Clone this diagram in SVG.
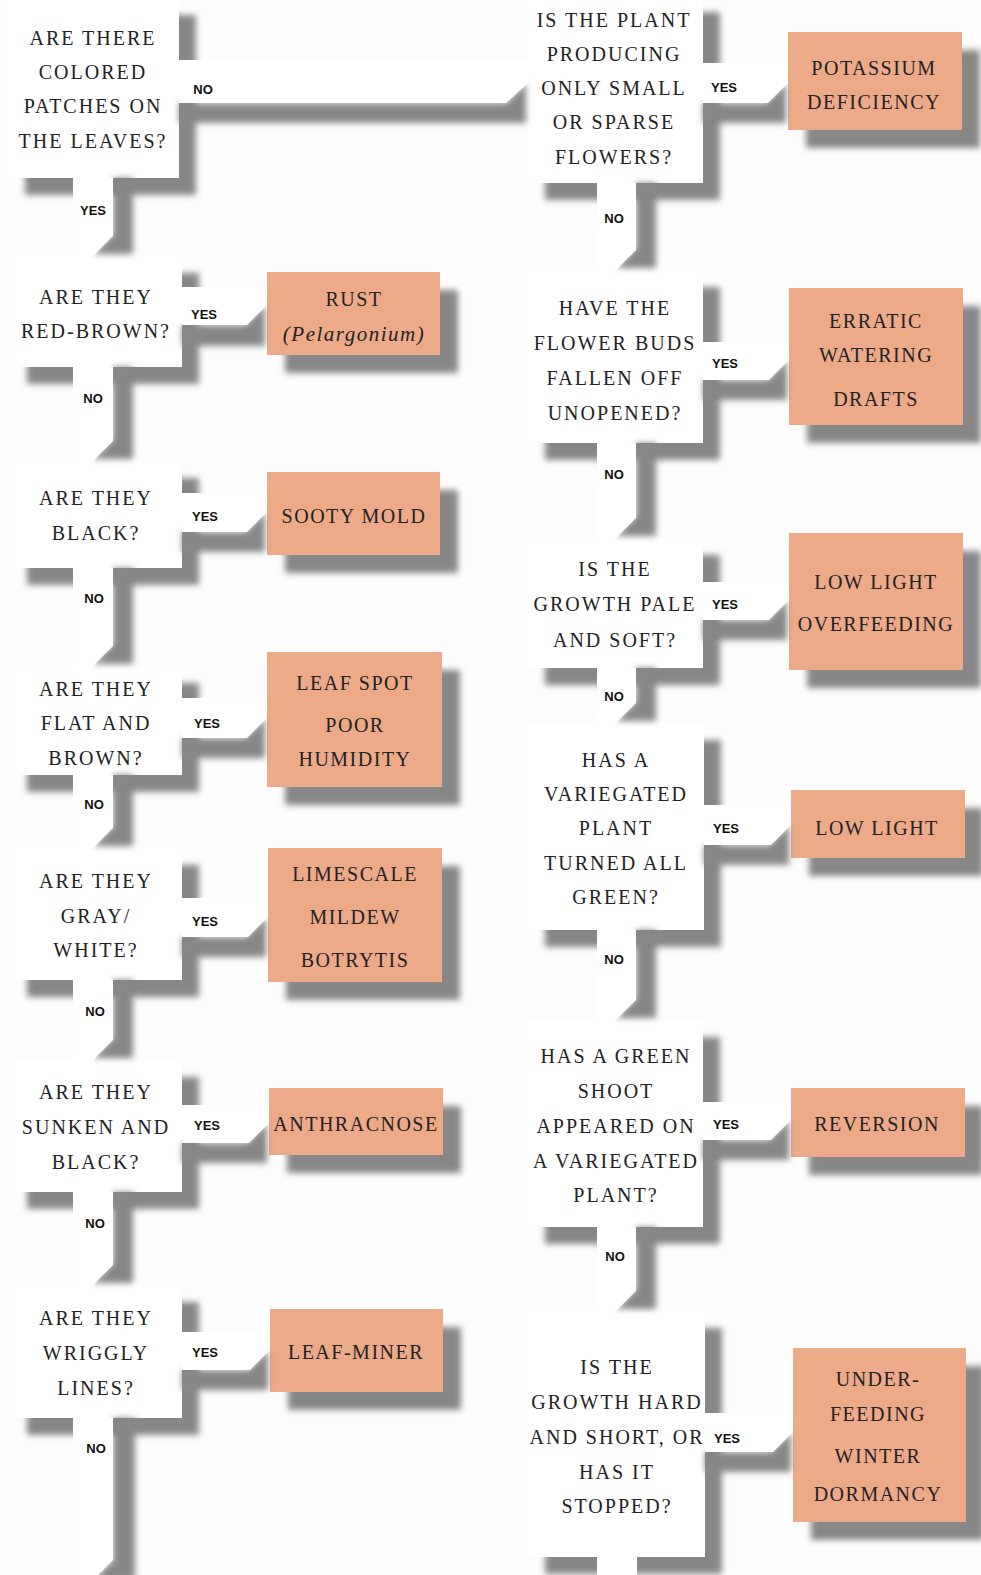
<svg xmlns="http://www.w3.org/2000/svg" width="981" height="1575" viewBox="0 0 981 1575">
<defs>
<filter id="blur" x="-30%" y="-30%" width="160%" height="160%"><feGaussianBlur stdDeviation="3.2"/></filter>
<style>
.sh{fill:#878787;filter:url(#blur)}
.wb{fill:#ffffff}
.ob{fill:#ecaa89}
.q{font-family:"Liberation Serif","Times New Roman",serif;font-size:20px;letter-spacing:2px;fill:#222;text-anchor:middle}
.r{font-family:"Liberation Serif","Times New Roman",serif;font-size:20px;letter-spacing:1.5px;fill:#222;text-anchor:middle}
.ri{font-family:"Liberation Serif","Times New Roman",serif;font-size:21px;font-style:italic;letter-spacing:1.5px;fill:#222;text-anchor:middle}
.lbl{font-family:"Liberation Sans",Arial,sans-serif;font-size:13px;font-weight:bold;fill:#111;text-anchor:middle}
</style>
</defs>
<rect x="0" y="0" width="981" height="1575" fill="#fdfdfd"/>

<!-- LEFT QUESTION NODES -->
<g id="q1">
<rect class="sh" x="25" y="15" width="171" height="180"/>
<rect class="wb" x="8" y="-2" width="171" height="180"/>
<text class="q" x="93" y="45">ARE THERE</text>
<text class="q" x="93" y="79">COLORED</text>
<text class="q" x="93" y="113">PATCHES ON</text>
<text class="q" x="93" y="148">THE LEAVES?</text>
</g>
<g id="q2">
<rect class="sh" x="27" y="273" width="172" height="111"/>
<rect class="wb" x="10" y="256" width="172" height="111"/>
<text class="q" x="96" y="304">ARE THEY</text>
<text class="q" x="96" y="338">RED-BROWN?</text>
</g>
<g id="q3">
<rect class="sh" x="27" y="478" width="172" height="107"/>
<rect class="wb" x="10" y="461" width="172" height="107"/>
<text class="q" x="96" y="505">ARE THEY</text>
<text class="q" x="96" y="540">BLACK?</text>
</g>
<g id="q4">
<rect class="sh" x="27" y="683" width="172" height="109"/>
<rect class="wb" x="10" y="666" width="172" height="109"/>
<text class="q" x="96" y="696">ARE THEY</text>
<text class="q" x="96" y="730">FLAT AND</text>
<text class="q" x="96" y="765">BROWN?</text>
</g>
<g id="q5">
<rect class="sh" x="27" y="865" width="172" height="132"/>
<rect class="wb" x="10" y="848" width="172" height="132"/>
<text class="q" x="96" y="888">ARE THEY</text>
<text class="q" x="96" y="923">GRAY/</text>
<text class="q" x="96" y="957">WHITE?</text>
</g>
<g id="q6">
<rect class="sh" x="27" y="1077" width="172" height="132"/>
<rect class="wb" x="10" y="1060" width="172" height="132"/>
<text class="q" x="96" y="1099">ARE THEY</text>
<text class="q" x="96" y="1134">SUNKEN AND</text>
<text class="q" x="96" y="1169">BLACK?</text>
</g>
<g id="q7">
<rect class="sh" x="27" y="1302" width="172" height="133"/>
<rect class="wb" x="10" y="1285" width="172" height="133"/>
<text class="q" x="96" y="1325">ARE THEY</text>
<text class="q" x="96" y="1360">WRIGGLY</text>
<text class="q" x="96" y="1395">LINES?</text>
</g>

<!-- LEFT RESULT NODES -->
<g id="rust">
<rect class="sh" x="285" y="290" width="173" height="83"/>
<rect class="ob" x="267" y="272" width="173" height="83"/>
<text class="r" x="354" y="306">RUST</text>
<text class="ri" x="354" y="341">(Pelargonium)</text>
</g>
<g id="sooty-mold">
<rect class="sh" x="285" y="490" width="173" height="83"/>
<rect class="ob" x="267" y="472" width="173" height="83"/>
<text class="r" x="354" y="523">SOOTY MOLD</text>
</g>
<g id="leaf-spot">
<rect class="sh" x="285" y="670" width="175" height="135"/>
<rect class="ob" x="267" y="652" width="175" height="135"/>
<text class="r" x="355" y="690">LEAF SPOT</text>
<text class="r" x="355" y="732">POOR</text>
<text class="r" x="355" y="766">HUMIDITY</text>
</g>
<g id="limescale">
<rect class="sh" x="286" y="866" width="174" height="134"/>
<rect class="ob" x="268" y="848" width="174" height="134"/>
<text class="r" x="355" y="881">LIMESCALE</text>
<text class="r" x="355" y="924">MILDEW</text>
<text class="r" x="355" y="967">BOTRYTIS</text>
</g>
<g id="anthracnose">
<rect class="sh" x="287" y="1106" width="174" height="67"/>
<rect class="ob" x="269" y="1088" width="174" height="67"/>
<text class="r" x="356" y="1131">ANTHRACNOSE</text>
</g>
<g id="leaf-miner">
<rect class="sh" x="288" y="1327" width="173" height="83"/>
<rect class="ob" x="270" y="1309" width="173" height="83"/>
<text class="r" x="356" y="1359">LEAF-MINER</text>
</g>

<!-- RIGHT QUESTION NODES -->
<g id="r1">
<rect class="sh" x="545" y="12" width="175" height="188"/>
<rect class="wb" x="528" y="-5" width="175" height="188"/>
<text class="q" x="614" y="27">IS THE PLANT</text>
<text class="q" x="614" y="61">PRODUCING</text>
<text class="q" x="614" y="95">ONLY SMALL</text>
<text class="q" x="614" y="129">OR SPARSE</text>
<text class="q" x="614" y="164">FLOWERS?</text>
</g>
<g id="r2">
<rect class="sh" x="545" y="287" width="175" height="173"/>
<rect class="wb" x="528" y="270" width="175" height="173"/>
<text class="q" x="615" y="315">HAVE THE</text>
<text class="q" x="615" y="350">FLOWER BUDS</text>
<text class="q" x="615" y="385">FALLEN OFF</text>
<text class="q" x="615" y="420">UNOPENED?</text>
</g>
<g id="r3">
<rect class="sh" x="545" y="555" width="175" height="130"/>
<rect class="wb" x="528" y="538" width="175" height="130"/>
<text class="q" x="615" y="576">IS THE</text>
<text class="q" x="615" y="611">GROWTH PALE</text>
<text class="q" x="615" y="647">AND SOFT?</text>
</g>
<g id="r4">
<rect class="sh" x="545" y="740" width="176" height="207"/>
<rect class="wb" x="528" y="723" width="176" height="207"/>
<text class="q" x="616" y="767">HAS A</text>
<text class="q" x="616" y="801">VARIEGATED</text>
<text class="q" x="616" y="835">PLANT</text>
<text class="q" x="616" y="870">TURNED ALL</text>
<text class="q" x="616" y="904">GREEN?</text>
</g>
<g id="r5">
<rect class="sh" x="545" y="1037" width="175" height="207"/>
<rect class="wb" x="528" y="1020" width="175" height="207"/>
<text class="q" x="616" y="1063">HAS A GREEN</text>
<text class="q" x="616" y="1098">SHOOT</text>
<text class="q" x="616" y="1133">APPEARED ON</text>
<text class="q" x="616" y="1168">A VARIEGATED</text>
<text class="q" x="616" y="1202">PLANT?</text>
</g>
<g id="r6">
<rect class="sh" x="545" y="1328" width="177" height="246"/>
<rect class="wb" x="528" y="1311" width="177" height="246"/>
<text class="q" x="617" y="1374">IS THE</text>
<text class="q" x="617" y="1409">GROWTH HARD</text>
<text class="q" x="617" y="1444">AND SHORT, OR</text>
<text class="q" x="617" y="1479">HAS IT</text>
<text class="q" x="617" y="1513">STOPPED?</text>
</g>

<!-- RIGHT RESULT NODES -->
<g id="potassium-deficiency">
<rect class="sh" x="806" y="50" width="174" height="98"/>
<rect class="ob" x="788" y="32" width="174" height="98"/>
<text class="r" x="874" y="75">POTASSIUM</text>
<text class="r" x="874" y="109">DEFICIENCY</text>
</g>
<g id="erratic-watering">
<rect class="sh" x="807" y="306" width="174" height="137"/>
<rect class="ob" x="789" y="288" width="174" height="137"/>
<text class="r" x="876" y="328">ERRATIC</text>
<text class="r" x="876" y="362">WATERING</text>
<text class="r" x="876" y="406">DRAFTS</text>
</g>
<g id="low-light-overfeeding">
<rect class="sh" x="807" y="551" width="174" height="137"/>
<rect class="ob" x="789" y="533" width="174" height="137"/>
<text class="r" x="876" y="589">LOW LIGHT</text>
<text class="r" x="876" y="631">OVERFEEDING</text>
</g>
<g id="low-light">
<rect class="sh" x="809" y="808" width="174" height="68"/>
<rect class="ob" x="791" y="790" width="174" height="68"/>
<text class="r" x="877" y="835">LOW LIGHT</text>
</g>
<g id="reversion">
<rect class="sh" x="809" y="1106" width="174" height="69"/>
<rect class="ob" x="791" y="1088" width="174" height="69"/>
<text class="r" x="877" y="1131">REVERSION</text>
</g>
<g id="underfeeding-winter-dormancy">
<rect class="sh" x="811" y="1366" width="173" height="174"/>
<rect class="ob" x="793" y="1348" width="173" height="174"/>
<text class="r" x="878" y="1386">UNDER-</text>
<text class="r" x="878" y="1421">FEEDING</text>
<text class="r" x="878" y="1463">WINTER</text>
<text class="r" x="878" y="1501">DORMANCY</text>
</g>

<!-- CONNECTORS -->
<g id="connectors">
<g id="c-q1-r1">
<polygon class="sh" points="179,103 506,103 526,83 526,123 179,123"/>
<polygon class="wb" points="179,60 528,60 528,83 506,103 179,103"/>
<text class="lbl" x="203" y="94">NO</text>
</g>
<g id="c-q1-q2">
<polygon class="sh" points="113,178 133,178 133,254 93,254 113,234"/>
<polygon class="wb" points="73,178 113,178 113,236 93,256 73,256"/>
<text class="lbl" x="93" y="215">YES</text>
</g>
<g id="c-q2-q3">
<polygon class="sh" points="113,367 133,367 133,459 93,459 113,439"/>
<polygon class="wb" points="73,367 113,367 113,441 93,461 73,461"/>
<text class="lbl" x="93" y="403">NO</text>
</g>
<g id="c-q3-q4">
<polygon class="sh" points="113,568 133,568 133,664 93,664 113,644"/>
<polygon class="wb" points="73,568 113,568 113,646 93,666 73,666"/>
<text class="lbl" x="94" y="603">NO</text>
</g>
<g id="c-q4-q5">
<polygon class="sh" points="113,775 133,775 133,846 93,846 113,826"/>
<polygon class="wb" points="73,775 113,775 113,828 93,848 73,848"/>
<text class="lbl" x="94" y="809">NO</text>
</g>
<g id="c-q5-q6">
<polygon class="sh" points="113,980 133,980 133,1058 93,1058 113,1038"/>
<polygon class="wb" points="73,980 113,980 113,1040 93,1060 73,1060"/>
<text class="lbl" x="95" y="1016">NO</text>
</g>
<g id="c-q6-q7">
<polygon class="sh" points="113,1192 133,1192 133,1283 93,1283 113,1263"/>
<polygon class="wb" points="73,1192 113,1192 113,1265 93,1285 73,1285"/>
<text class="lbl" x="95" y="1228">NO</text>
</g>
<g id="c-q7-down">
<polygon class="sh" points="113,1418 135,1418 135,1580 93,1580 113,1560"/>
<polygon class="wb" points="73,1418 113,1418 113,1560 93,1580 73,1580"/>
<text class="lbl" x="96" y="1453">NO</text>
</g>
<g id="c-q2-rust">
<polygon class="sh" points="182,325 245,325 265,305 265,346 182,346"/>
<polygon class="wb" points="182,287 267,287 267,305 247,325 182,325"/>
<text class="lbl" x="204" y="319">YES</text>
</g>
<g id="c-q3-sooty">
<polygon class="sh" points="182,532 245,532 265,512 265,552 182,552"/>
<polygon class="wb" points="182,493 267,493 267,512 247,532 182,532"/>
<text class="lbl" x="205" y="521">YES</text>
</g>
<g id="c-q4-leafspot">
<polygon class="sh" points="182,738 245,738 265,718 265,758 182,758"/>
<polygon class="wb" points="182,698 267,698 267,718 247,738 182,738"/>
<text class="lbl" x="207" y="728">YES</text>
</g>
<g id="c-q5-limescale">
<polygon class="sh" points="182,937 246,937 266,917 266,957 182,957"/>
<polygon class="wb" points="182,898 268,898 268,917 248,937 182,937"/>
<text class="lbl" x="205" y="926">YES</text>
</g>
<g id="c-q6-anthracnose">
<polygon class="sh" points="182,1143 247,1143 267,1123 267,1163 182,1163"/>
<polygon class="wb" points="182,1105 269,1105 269,1123 249,1143 182,1143"/>
<text class="lbl" x="207" y="1130">YES</text>
</g>
<g id="c-q7-leafminer">
<polygon class="sh" points="182,1370 248,1370 268,1350 268,1390 182,1390"/>
<polygon class="wb" points="182,1332 270,1332 270,1350 250,1370 182,1370"/>
<text class="lbl" x="205" y="1357">YES</text>
</g>
<g id="c-r1-r2">
<polygon class="sh" points="636,183 656,183 656,268 616,268 636,248"/>
<polygon class="wb" points="597,183 636,183 636,250 616,270 597,270"/>
<text class="lbl" x="614" y="223">NO</text>
</g>
<g id="c-r2-r3">
<polygon class="sh" points="636,443 656,443 656,536 616,536 636,516"/>
<polygon class="wb" points="597,443 636,443 636,518 616,538 597,538"/>
<text class="lbl" x="614" y="479">NO</text>
</g>
<g id="c-r3-r4">
<polygon class="sh" points="636,668 656,668 656,721 616,721 636,701"/>
<polygon class="wb" points="597,668 636,668 636,703 616,723 597,723"/>
<text class="lbl" x="614" y="701">NO</text>
</g>
<g id="c-r4-r5">
<polygon class="sh" points="636,930 656,930 656,1018 616,1018 636,998"/>
<polygon class="wb" points="597,930 636,930 636,1000 616,1020 597,1020"/>
<text class="lbl" x="614" y="964">NO</text>
</g>
<g id="c-r5-r6">
<polygon class="sh" points="636,1227 656,1227 656,1309 616,1309 636,1289"/>
<polygon class="wb" points="597,1227 636,1227 636,1291 616,1311 597,1311"/>
<text class="lbl" x="615" y="1261">NO</text>
</g>
<g id="c-r6-down">
<polygon class="wb" points="597,1557 637,1557 637,1580 597,1580"/>
</g>
<g id="c-r1-potassium">
<polygon class="sh" points="703,103 766,103 786,83 786,123 703,123"/>
<polygon class="wb" points="703,63 788,63 788,83 768,103 703,103"/>
<text class="lbl" x="724" y="92">YES</text>
</g>
<g id="c-r2-erratic">
<polygon class="sh" points="703,380 767,380 787,360 787,400 703,400"/>
<polygon class="wb" points="703,342 789,342 789,360 769,380 703,380"/>
<text class="lbl" x="725" y="368">YES</text>
</g>
<g id="c-r3-lowlight-overfeeding">
<polygon class="sh" points="703,620 767,620 787,600 787,640 703,640"/>
<polygon class="wb" points="703,582 789,582 789,600 769,620 703,620"/>
<text class="lbl" x="725" y="609">YES</text>
</g>
<g id="c-r4-lowlight">
<polygon class="sh" points="704,845 769,845 789,825 789,865 704,865"/>
<polygon class="wb" points="704,805 791,805 791,825 771,845 704,845"/>
<text class="lbl" x="726" y="833">YES</text>
</g>
<g id="c-r5-reversion">
<polygon class="sh" points="703,1140 769,1140 789,1120 789,1160 703,1160"/>
<polygon class="wb" points="703,1102 791,1102 791,1120 771,1140 703,1140"/>
<text class="lbl" x="726" y="1129">YES</text>
</g>
<g id="c-r6-underfeeding">
<polygon class="sh" points="705,1452 771,1452 791,1432 791,1472 705,1472"/>
<polygon class="wb" points="705,1413 793,1413 793,1432 773,1452 705,1452"/>
<text class="lbl" x="727" y="1443">YES</text>
</g>
</g>
</svg>
